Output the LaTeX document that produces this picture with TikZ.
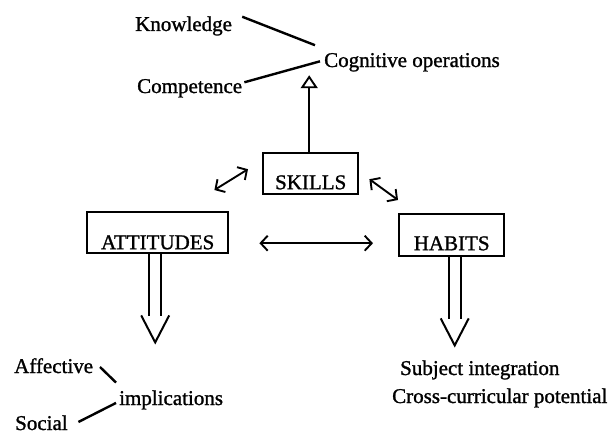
\documentclass[tikz,border=0pt]{standalone}
\usepackage{fontspec}
\setmainfont{Liberation Serif}[FakeBold=1.2]
\usetikzlibrary{arrows.meta}
\begin{document}
\begin{tikzpicture}[x=1pt,y=-1pt,
  txt/.style={font=\fontsize{21}{25}\selectfont},
  lbl/.style={txt, inner sep=0pt, anchor=base west},
  boxnode/.style={txt, draw, line width=2.4pt, inner sep=0pt, anchor=north west},
  link/.style={line width=2.4pt},
  both/.style={line width=1.9pt,
    {Straight Barb[length=7pt,width=15pt]}-{Straight Barb[length=7pt,width=15pt]}},
  up/.style={line width=1.9pt, -{Triangle[open,length=13pt,width=17pt]}},
  shaft/.style={line width=2pt},
  bigdown/.pic={
    \draw[shaft] (-6,0) -- (-6,62);
    \draw[shaft] (6,0) -- (6,62);
    \draw[shaft, line join=miter] (-14,61) -- (0,88) -- (14,61);
  }]
\useasboundingbox (0,0) rectangle (611,436);

% boxed notions
\node[boxnode, minimum width=95pt, text height=36pt, text depth=5pt] (skills) at (262,152) {SKILLS};
\node[boxnode, minimum width=141pt, text height=37pt, text depth=4pt] (att) at (86,211) {ATTITUDES};
\node[boxnode, minimum width=105pt, text height=36pt, text depth=6pt] (hab) at (398,213) {HABITS};

% labels
\node[lbl] (know) at (135,31) {Knowledge};
\node[lbl] (cog) at (324,67) {Cognitive operations};
\node[lbl] (comp) at (137,93) {Competence};
\node[lbl] (aff) at (14,373) {Affective};
\node[lbl] (impl) at (119,405) {implications};
\node[lbl] (soc) at (15,430) {Social};
\node[lbl] (subj) at (400,375) {Subject integration};
\node[lbl] (cross) at (392,403) {Cross-curricular potential};

% plain links
\draw[link] ([shift={(10,0.5)}]know.north east) -- ([shift={(-9,-7.7)}]cog.north west);
\draw[link] ([shift={(2,-6)}]comp.east) -- ([shift={(-4,-1)}]cog.west);
\draw[link] ([shift={(6.7,-6)}]aff.base east) -- ([shift={(-3,-7.7)}]impl.north west);
\draw[link] ([shift={(10.5,-8)}]soc.base east) -- ([shift={(-3,3)}]impl.west);

% skills to cognitive operations
\draw[up] ([xshift=-1.5]skills.north) -- ([shift={(-1.5,3.5)}]skills.north |- cog.south);

% mutual relations
\draw[both] ([shift={(-15,-21)}]att.north east) -- ([shift={(-14,-4.5)}]skills.west);
\draw[both] ([shift={(10,5.5)}]skills.east) -- ([shift={(0,-13)}]hab.north west);
\draw[both] ([shift={(30,10.5)}]att.east) -- ([shift={(-25,8)}]hab.west);

% outcomes
\path ([xshift=-2.5]att.south) pic {bigdown};
\path ([xshift=3]hab.south) pic {bigdown};
\end{tikzpicture}
\end{document}
